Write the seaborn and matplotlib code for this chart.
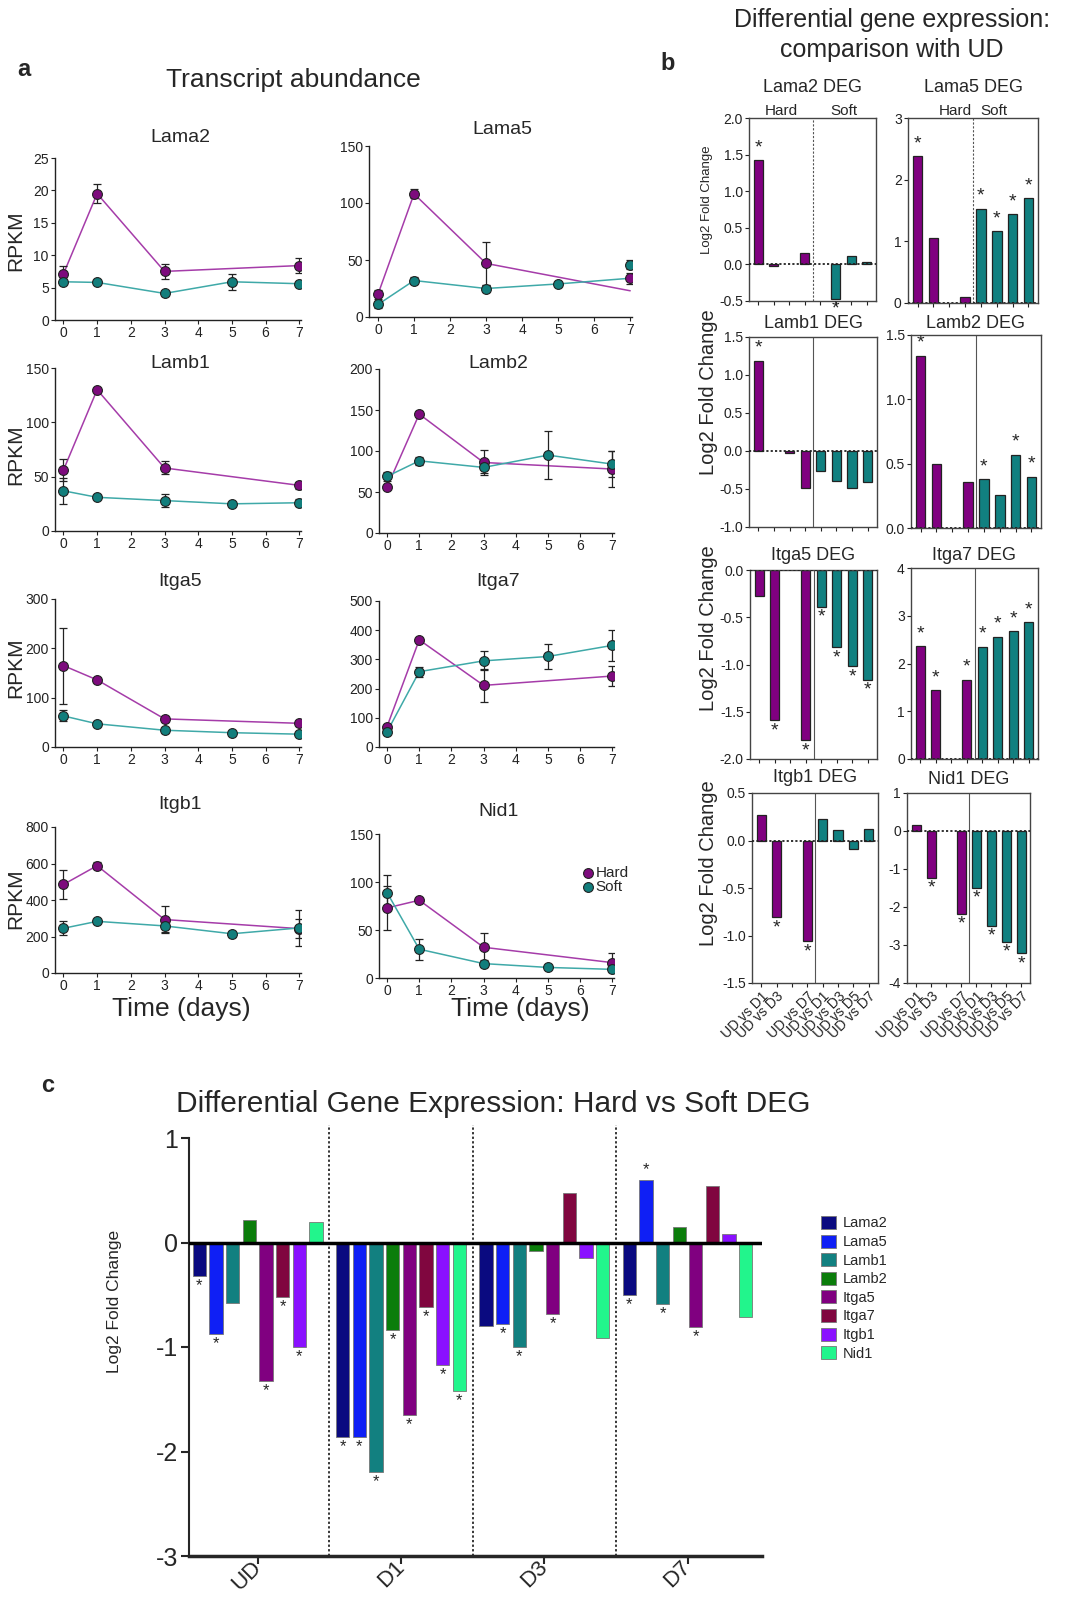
import numpy as np
import pandas as pd
import matplotlib
matplotlib.use('Agg')
import matplotlib.pyplot as plt
import seaborn as sns

# ---------------- data ----------------
genes = ['Lama2', 'Lama5', 'Lamb1', 'Lamb2', 'Itga5', 'Itga7', 'Itgb1', 'Nid1']

# panel a: transcript abundance (RPKM)
days_hard = [0, 1, 3, 7]
days_soft = [0, 1, 3, 5, 7]

hard_mean = {
    'Lama2': [7.1, 19.5, 7.5, 8.4],
    'Lama5': [20, 108, 47, 34],
    'Lamb1': [56, 130, 58, 42],
    'Lamb2': [56, 145, 86, 78],
    'Itga5': [165, 136, 57, 48],
    'Itga7': [70, 367, 211, 243],
    'Itgb1': [485, 588, 293, 243],
    'Nid1': [73, 81, 32, 16],
}
hard_err = {
    'Lama2': [1.3, 1.5, 1.2, 1.1],
    'Lama5': [4, 4, 19, 5],
    'Lamb1': [10, 2, 6, 3],
    'Lamb2': [2, 4, 15, 22],
    'Itga5': [77, 4, 6, 5],
    'Itga7': [6, 5, 57, 33],
    'Itgb1': [82, 18, 73, 52],
    'Nid1': [23, 2, 15, 10],
}
soft_mean = {
    'Lama2': [5.9, 5.8, 4.1, 5.9, 5.6],
    'Lama5': [11, 32, 25, 29, 46],
    'Lamb1': [37, 31, 28, 25, 26],
    'Lamb2': [69, 88, 80, 95, 84],
    'Itga5': [63, 47, 34, 29, 26],
    'Itga7': [52, 258, 295, 310, 348],
    'Itgb1': [245, 283, 258, 215, 247],
    'Nid1': [89, 30, 15, 11, 9],
}
soft_err = {
    'Lama2': [0.4, 0.3, 0.4, 1.2, 0.3],
    'Lama5': [3, 3, 3, 2, 4],
    'Lamb1': [12, 2, 6, 1, 3],
    'Lamb2': [5, 5, 7, 29, 16],
    'Itga5': [11, 4, 6, 3, 4],
    'Itga7': [5, 17, 33, 44, 53],
    'Itgb1': [38, 10, 35, 15, 100],
    'Nid1': [18, 11, 4, 1, 2],
}
# in the Lama5 plot the lines don't end on the day-7 points
lama5_line_hard = [20, 108, 47, 23]
lama5_line_soft = [11, 32, 25, 29, 34]

abund_ylim = {'Lama2': 25, 'Lama5': 150, 'Lamb1': 150, 'Lamb2': 200,
              'Itga5': 300, 'Itga7': 500, 'Itgb1': 800, 'Nid1': 150}
abund_step = {'Lama2': 5, 'Lama5': 50, 'Lamb1': 50, 'Lamb2': 50,
              'Itga5': 100, 'Itga7': 100, 'Itgb1': 200, 'Nid1': 50}

# panel b: log2 fold change vs UD
deg_labels = ['UD vs D1', 'UD vs D3', '', 'UD vs D7', 'UD vs D1', 'UD vs D3', 'UD vs D5', 'UD vs D7']
nan = np.nan
deg_hard = {
    'Lama2': [1.43, -0.02, nan, 0.15],
    'Lama5': [2.38, 1.05, nan, 0.10],
    'Lamb1': [1.19, nan, -0.03, -0.49],
    'Lamb2': [1.34, 0.50, nan, 0.36],
    'Itga5': [-0.27, -1.59, nan, -1.80],
    'Itga7': [2.36, 1.44, nan, 1.66],
    'Itgb1': [0.27, -0.81, nan, -1.06],
    'Nid1': [0.15, -1.23, nan, -2.18],
}
deg_soft = {
    'Lama2': [nan, -0.47, 0.11, 0.03],
    'Lama5': [1.53, 1.17, 1.44, 1.70],
    'Lamb1': [-0.26, -0.40, -0.49, -0.41],
    'Lamb2': [0.38, 0.26, 0.57, 0.40],
    'Itga5': [-0.39, -0.82, -1.02, -1.16],
    'Itga7': [2.35, 2.56, 2.68, 2.87],
    'Itgb1': [0.23, 0.11, -0.09, 0.12],
    'Nid1': [-1.50, -2.50, -2.92, -3.22],
}
sig_hard = {
    'Lama2': [1, 0, 0, 0], 'Lama5': [1, 0, 0, 0], 'Lamb1': [1, 0, 0, 0], 'Lamb2': [1, 0, 0, 0],
    'Itga5': [0, 1, 0, 1], 'Itga7': [1, 1, 0, 1], 'Itgb1': [0, 1, 0, 1], 'Nid1': [0, 1, 0, 1],
}
sig_soft = {
    'Lama2': [0, 1, 0, 0], 'Lama5': [1, 1, 1, 1], 'Lamb1': [0, 0, 0, 0], 'Lamb2': [1, 0, 1, 1],
    'Itga5': [1, 1, 1, 1], 'Itga7': [1, 1, 1, 1], 'Itgb1': [0, 0, 0, 0], 'Nid1': [1, 1, 1, 1],
}
deg_ylim = {'Lama2': (-0.5, 2.0), 'Lama5': (0, 3), 'Lamb1': (-1.0, 1.5), 'Lamb2': (0, 1.5),
            'Itga5': (-2.0, 0.0), 'Itga7': (0, 4), 'Itgb1': (-1.5, 0.5), 'Nid1': (-4, 1)}

# panel c: hard vs soft
days_c = ['UD', 'D1', 'D3', 'D7']
hvs = {
    'Lama2': [-0.32, -1.86, -0.80, -0.50],
    'Lama5': [-0.88, -1.86, -0.78, 0.60],
    'Lamb1': [-0.58, -2.20, -1.00, -0.59],
    'Lamb2': [0.22, -0.84, -0.08, 0.15],
    'Itga5': [-1.33, -1.65, -0.68, -0.81],
    'Itga7': [-0.52, -0.62, 0.47, 0.54],
    'Itgb1': [-1.00, -1.17, -0.15, 0.08],
    'Nid1': [0.20, -1.42, -0.91, -0.71],
}
hvs_sig = {
    'Lama2': [1, 1, 0, 1], 'Lama5': [1, 1, 1, 1], 'Lamb1': [0, 1, 1, 1], 'Lamb2': [0, 1, 0, 0],
    'Itga5': [1, 1, 1, 1], 'Itga7': [1, 1, 0, 0], 'Itgb1': [1, 1, 0, 0], 'Nid1': [0, 1, 0, 0],
}
colors_c = {'Lama2': '#0a0a80', 'Lama5': '#0f1ff5', 'Lamb1': '#128080', 'Lamb2': '#0b7d0b',
            'Itga5': '#800080', 'Itga7': '#80063f', 'Itgb1': '#8a10ff', 'Nid1': '#22f58c'}

# ---------------- style ----------------
sns.set_style('ticks')
plt.rcParams['font.family'] = ['Liberation Sans', 'DejaVu Sans']
plt.rcParams['axes.unicode_minus'] = False
NARROW = ['Liberation Sans Narrow', 'Liberation Sans', 'DejaVu Sans']
HARD = '#7d0b7d'
SOFT = '#127e7c'
HARD_LINE = '#a53ca9'
SOFT_LINE = '#3fa9a8'
INK = '#222222'

W, H = 1074, 1597
fig = plt.figure(figsize=(W / 100, H / 100), dpi=100)


def box(l, t, r, b):
    return fig.add_axes([l / W, 1 - b / H, (r - l) / W, (b - t) / H])


def ftext(x, y, s, **kw):
    fig.text(x / W, 1 - y / H, s, **kw)


# ---------------- panel a ----------------
ftext(17, 69, 'a', fontsize=17, fontweight='bold', va='center')
ftext(293, 80, 'Transcript abundance', fontsize=19, family=NARROW, ha='center', va='center')

a_boxes = {
    'Lama2': (55, 158, 301, 320), 'Lama5': (369, 146, 632, 317),
    'Lamb1': (55, 368, 301, 531), 'Lamb2': (379, 369, 614, 533),
    'Itga5': (55, 599, 301, 747), 'Itga7': (379, 601, 614, 747),
    'Itgb1': (55, 827, 301, 973), 'Nid1': (379, 834, 614, 978),
}
a_titles = {'Lama2': 138, 'Lama5': 130, 'Lamb1': 364, 'Lamb2': 364,
            'Itga5': 581, 'Itga7': 581, 'Itgb1': 805, 'Nid1': 811}

for g in genes:
    l, t, r, b = a_boxes[g]
    ax = box(l, t, r, b)
    lh = lama5_line_hard if g == 'Lama5' else hard_mean[g]
    ls_ = lama5_line_soft if g == 'Lama5' else soft_mean[g]
    sns.lineplot(x=days_hard, y=lh, color=HARD_LINE, lw=1.1, ax=ax)
    sns.lineplot(x=days_soft, y=ls_, color=SOFT_LINE, lw=1.1, ax=ax)
    ax.errorbar(days_hard, hard_mean[g], yerr=hard_err[g], fmt='none', ecolor=INK,
                elinewidth=0.9, capsize=3, capthick=0.9, zorder=3)
    ax.errorbar(days_soft, soft_mean[g], yerr=soft_err[g], fmt='none', ecolor=INK,
                elinewidth=0.9, capsize=3, capthick=0.9, zorder=3)
    sns.scatterplot(x=days_hard, y=hard_mean[g], color=HARD, s=50, edgecolor=INK,
                    linewidth=0.8, ax=ax, zorder=4, label='Hard' if g == 'Nid1' else None)
    sns.scatterplot(x=days_soft, y=soft_mean[g], color=SOFT, s=50, edgecolor=INK,
                    linewidth=0.8, ax=ax, zorder=4, label='Soft' if g == 'Nid1' else None)
    ax.set_xlim(-0.25, 7.05)
    ax.set_ylim(0, abund_ylim[g])
    ax.set_xticks(range(8))
    ax.set_yticks(np.arange(0, abund_ylim[g] + 1, abund_step[g]))
    sns.despine(ax=ax)
    for s in ['left', 'bottom']:
        ax.spines[s].set_linewidth(1.0)
        ax.spines[s].set_color(INK)
    ax.tick_params(length=3, width=0.8, labelsize=10, pad=1.5, colors=INK)
    for lbl in ax.get_xticklabels() + ax.get_yticklabels():
        lbl.set_family(NARROW)
    ax.set_xlabel('')
    ax.set_ylabel('')
    ftext((l + r) / 2 + 2, a_titles[g], g, fontsize=14, ha='center', va='center')
    if g == 'Nid1':
        ax.legend(loc='center left', bbox_to_anchor=(0.83, 0.68), frameon=False,
                  handletextpad=0.1, labelspacing=0.0, borderpad=0, handlelength=0.8,
                  prop={'family': NARROW, 'size': 11})
    else:
        if ax.get_legend():
            ax.get_legend().remove()

for y in [241, 455, 668, 899]:
    ftext(16, y, 'RPKM', fontsize=15, rotation=90, ha='center', va='center')
for x in [181, 520]:
    ftext(x, 1009, 'Time (days)', fontsize=19, family=NARROW, ha='center', va='center')

# ---------------- panel b ----------------
ftext(660, 63, 'b', fontsize=17, fontweight='bold', va='center')
ftext(892, 20, 'Differential gene expression:', fontsize=18, ha='center', va='center')
ftext(892, 50, 'comparison with UD', fontsize=18, ha='center', va='center')

b_boxes = {
    'Lama2': (749, 118, 876, 301), 'Lama5': (908, 118, 1038, 303),
    'Lamb1': (749, 337, 877, 527), 'Lamb2': (911, 335, 1041, 528),
    'Itga5': (750, 570, 877, 759), 'Itga7': (911, 568, 1038, 759),
    'Itgb1': (752, 793, 878, 983), 'Nid1': (907, 793, 1030, 983),
}
b_title_y = {'Lama2': 87, 'Lama5': 87, 'Lamb1': 323, 'Lamb2': 323,
             'Itga5': 555, 'Itga7': 555, 'Itgb1': 777, 'Nid1': 780}
keys = ['h1', 'h3', 'h5', 'h7', 's1', 's3', 's5', 's7']

for g in genes:
    l, t, r, b = b_boxes[g]
    ax = box(l, t, r, b)
    vals = deg_hard[g] + deg_soft[g]
    sig = sig_hard[g] + sig_soft[g]
    df = pd.DataFrame({'key': keys, 'lfc': vals, 'cond': ['Hard'] * 4 + ['Soft'] * 4}).dropna()
    sns.barplot(data=df, x='key', y='lfc', hue='cond', order=keys, dodge=False,
                palette={'Hard': '#800080', 'Soft': '#118080'}, width=0.6, saturation=1,
                edgecolor=INK, linewidth=0.9, legend=False, ax=ax)
    top_row = g in ('Lama2', 'Lama5')
    ax.axhline(0, color=INK, ls=(0, (1.2, 1.2)), lw=1.3, zorder=3)
    ax.axvline(3.5, color='#555555', lw=0.8, ls=(0, (2, 1.5)) if top_row else '-')
    ax.set_xlim(-0.6, 7.6)
    lo, hi = deg_ylim[g]
    ax.set_ylim(lo, hi)
    if g in ('Lama5', 'Itga7', 'Nid1'):
        ax.set_yticks(np.arange(lo, hi + 0.01, 1))
        ax.set_yticklabels([f'{v:g}' for v in np.arange(lo, hi + 0.01, 1)])
    else:
        tk = np.arange(lo, hi + 0.01, 0.5)
        ax.set_yticks(tk)
        ax.set_yticklabels([f'{v:.1f}' for v in tk])
    ax.set_xticks(range(8))
    if g in ('Itgb1', 'Nid1'):
        ax.set_xticklabels(deg_labels, rotation=45, ha='right', rotation_mode='anchor', fontsize=12)
    else:
        ax.set_xticklabels([''] * 8)
    for s in ax.spines.values():
        s.set_linewidth(1.0)
        s.set_color('#444444')
    ax.tick_params(length=3, width=0.8, labelsize=10, pad=1.5, colors=INK)
    ax.set_xlabel('')
    ax.set_ylabel('')
    span = hi - lo
    for i, (v, s_) in enumerate(zip(vals, sig)):
        if s_ and not np.isnan(v):
            if v >= 0:
                ax.text(i, v + 0.02 * span, '*', ha='center', va='bottom', fontsize=14)
            else:
                ax.text(i, v - 0.01 * span, '*', ha='center', va='top', fontsize=14)
    ftext((l + r) / 2, b_title_y[g], f'{g} DEG', fontsize=13, ha='center', va='center')
    if g == 'Lama2':
        ax.text(1.5, hi, 'Hard', ha='center', va='bottom', fontsize=11)
        ax.text(5.5, hi, 'Soft', ha='center', va='bottom', fontsize=11)
    if g == 'Lama5':
        ax.text(2.4, hi, 'Hard', ha='center', va='bottom', fontsize=11)
        ax.text(4.8, hi, 'Soft', ha='center', va='bottom', fontsize=11)

ftext(707, 200, 'Log2 Fold Change', fontsize=9.5, rotation=90, ha='center', va='center')
for y in [392, 628, 863]:
    ftext(708, y, 'Log2 Fold Change', fontsize=14.5, rotation=90, ha='center', va='center')

# ---------------- panel c ----------------
ftext(41, 1085, 'c', fontsize=17, fontweight='bold', va='center')
ftext(493, 1104, 'Differential Gene Expression: Hard vs Soft DEG', fontsize=21.5,
      family=NARROW, ha='center', va='center')

axc = box(189, 1138, 762, 1556)
rows = []
for g in genes:
    for d, v in zip(days_c, hvs[g]):
        rows.append({'day': d, 'gene': g, 'lfc': v})
dfc = pd.DataFrame(rows)
bar_w = 0.93
sns.barplot(data=dfc, x='day', y='lfc', hue='gene', order=days_c, hue_order=genes,
            palette=colors_c, width=bar_w, gap=0.2, saturation=1,
            edgecolor='#777777', linewidth=0.6, ax=axc)
axc.axhline(0, color='black', lw=2.5, zorder=3)
for xs in [0.5, 1.5, 2.5]:
    axc.axvline(xs, color='black', ls=(0, (1.5, 1.5)), lw=1.1, ymax=1.03, clip_on=False)
axc.set_xlim(-0.48, 3.52)
axc.set_ylim(-3, 1)
axc.set_yticks([-3, -2, -1, 0, 1])
axc.set_xticks(range(4))
axc.set_xticklabels(days_c, rotation=45, ha='right', va='center', rotation_mode='anchor')
sns.despine(ax=axc)
axc.spines['left'].set_linewidth(1.5)
axc.spines['bottom'].set_linewidth(2.5)
axc.tick_params(axis='y', length=6, width=1.5, labelsize=18, pad=2)
axc.tick_params(axis='x', length=6, width=1.5, labelsize=16, pad=0)
for lbl in axc.get_xticklabels() + axc.get_yticklabels():
    lbl.set_family(NARROW)
axc.set_xlabel('')
axc.set_ylabel('')
ftext(114, 1301, 'Log2 Fold Change', fontsize=12.5, rotation=90, ha='center', va='center')
for k, g in enumerate(genes):
    for gi, (v, s_) in enumerate(zip(hvs[g], hvs_sig[g])):
        if s_:
            x = gi + (k - 3.5) * bar_w / 8
            if v >= 0:
                axc.text(x, v + 0.03, '*', ha='center', va='bottom', fontsize=12)
            else:
                axc.text(x, v - 0.02, '*', ha='center', va='top', fontsize=12)
handles, labels = axc.get_legend_handles_labels()
axc.legend(handles, labels, loc='upper left', bbox_to_anchor=(1.08, 0.845), frameon=False,
           handlelength=1.0, handleheight=1.0, labelspacing=0.28, handletextpad=0.5,
           prop={'family': NARROW, 'size': 10.5})

fig.savefig('out.png', dpi=100)
